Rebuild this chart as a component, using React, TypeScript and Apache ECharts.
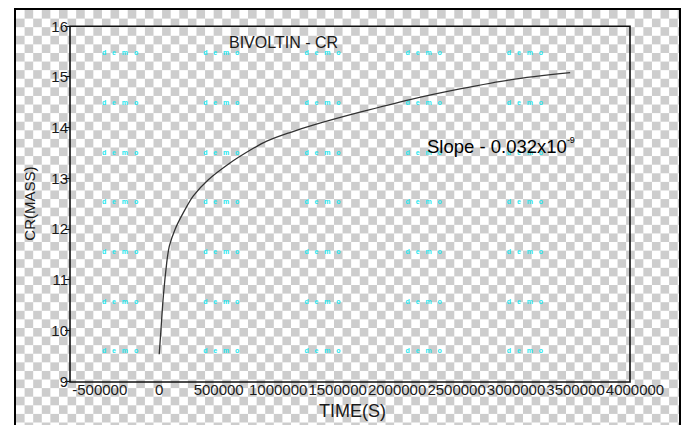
import React, { useEffect, useRef } from "react";
import * as echarts from "echarts";

// Data (time in seconds, CR mass)
const times = [0, 15000, 35000, 63000, 85000, 133000, 203000, 287000, 413000, 595000, 763000, 904000, 1100000, 1300000, 1688000, 2109000, 2529000, 2950000, 3455000];
const masses = [9.53, 10.02, 10.68, 11.33, 11.66, 11.99, 12.32, 12.65, 12.97, 13.3, 13.55, 13.73, 13.9, 14.05, 14.3, 14.55, 14.76, 14.94, 15.08];

const titleText = "BIVOLTIN - CR";
const slopeMain = "Slope - 0.032x10";
const slopeExp = "-9";
const xName = "TIME(S)";
const yName = "CR(MASS)";

const FONT = "'Liberation Sans', Arial, sans-serif";
const TXT = "#1a1a1a";

export default function App() {
  const ref = useRef<HTMLDivElement>(null);

  useEffect(() => {
    if (!ref.current) return;
    const chart = echarts.init(ref.current, null, { renderer: "svg" });

    const demo: any[] = [];
    for (let i = 0; i < 5; i++) {
      for (let j = 0; j < 7; j++) {
        demo.push({
          type: "text",
          x: 102 + i * 101.2,
          y: 52.7 + j * 49.7,
          z: 1,
          style: {
            text: "d   e   m   o",
            font: "bold 7px " + FONT,
            fill: "#1ee6ee",
            verticalAlign: "middle",
            align: "left",
          },
        });
      }
    }

    chart.setOption({
      animation: false,
      backgroundColor: "transparent",
      textStyle: { fontFamily: FONT },
      grid: { left: 70, top: 26, width: 565, height: 356, containLabel: false },
      xAxis: {
        type: "value",
        min: -750000,
        max: 4000000,
        interval: 250000,
        name: xName,
        nameLocation: "middle",
        nameGap: 19,
        nameTextStyle: { fontSize: 18, color: TXT, fontFamily: FONT },
        axisLine: { show: false, onZero: false },
        axisTick: { show: false },
        splitLine: { show: false },
        axisLabel: {
          fontSize: 15,
          color: TXT,
          margin: 1,
          fontFamily: FONT,
          formatter: (v: number) => (Math.round(v) % 500000 === 0 ? String(Math.round(v)) : ""),
        },
      },
      yAxis: {
        type: "value",
        min: 9,
        max: 16,
        interval: 1,
        name: yName,
        nameLocation: "middle",
        nameRotate: 90,
        nameGap: 33,
        nameTextStyle: { fontSize: 15, color: TXT, fontFamily: FONT },
        axisLine: { show: false, onZero: false },
        axisTick: { show: true, length: 5, lineStyle: { color: "#111", width: 1 } },
        splitLine: { show: false },
        axisLabel: { fontSize: 15, color: TXT, margin: 2, fontFamily: FONT },
      },
      graphic: [
        ...demo,
        {
          type: "rect",
          z: 5,
          shape: { x: 70, y: 26.3, width: 560, height: 355.7 },
          style: { fill: "none", stroke: "#111", lineWidth: 1.6 },
        },
        {
          type: "text",
          x: 229,
          y: 42,
          z: 6,
          style: {
            text: titleText,
            font: "16px " + FONT,
            fill: TXT,
            verticalAlign: "middle",
          },
        },
        {
          type: "text",
          x: 427,
          y: 146,
          z: 6,
          style: {
            text: "{n|" + slopeMain + "}{s|" + slopeExp + "}",
            verticalAlign: "middle",
            rich: {
              n: { fontSize: 18.5, fontFamily: FONT, color: TXT, lineHeight: 22 },
              s: { fontSize: 9, fontFamily: FONT, color: TXT, verticalAlign: "top", lineHeight: 22 },
            },
          },
        },
      ],
      series: [
        {
          type: "line",
          data: times.map((t, i) => [t, masses[i]]),
          smooth: 0.3,
          showSymbol: false,
          symbol: "none",
          lineStyle: { color: "#333", width: 1.3 },
          z: 4,
        },
      ],
    });

    return () => chart.dispose();
  }, []);

  return (
    <div
      style={{
        position: "fixed",
        left: 0,
        top: 0,
        width: 682,
        height: 425,
        background: "#fff",
        overflow: "hidden",
      }}
    >
      <div
        style={{
          position: "absolute",
          left: 14,
          top: 8,
          width: 667,
          height: 430,
          border: "2px solid #000",
          boxSizing: "border-box",
          backgroundColor: "#fff",
          backgroundImage: "repeating-conic-gradient(#cdcdcd 0% 25%, #ffffff 0% 50%)",
          backgroundSize: "17.2px 17.2px",
        }}
      />
      <div ref={ref} style={{ position: "absolute", left: 0, top: 0, width: 682, height: 425 }} />
    </div>
  );
}
